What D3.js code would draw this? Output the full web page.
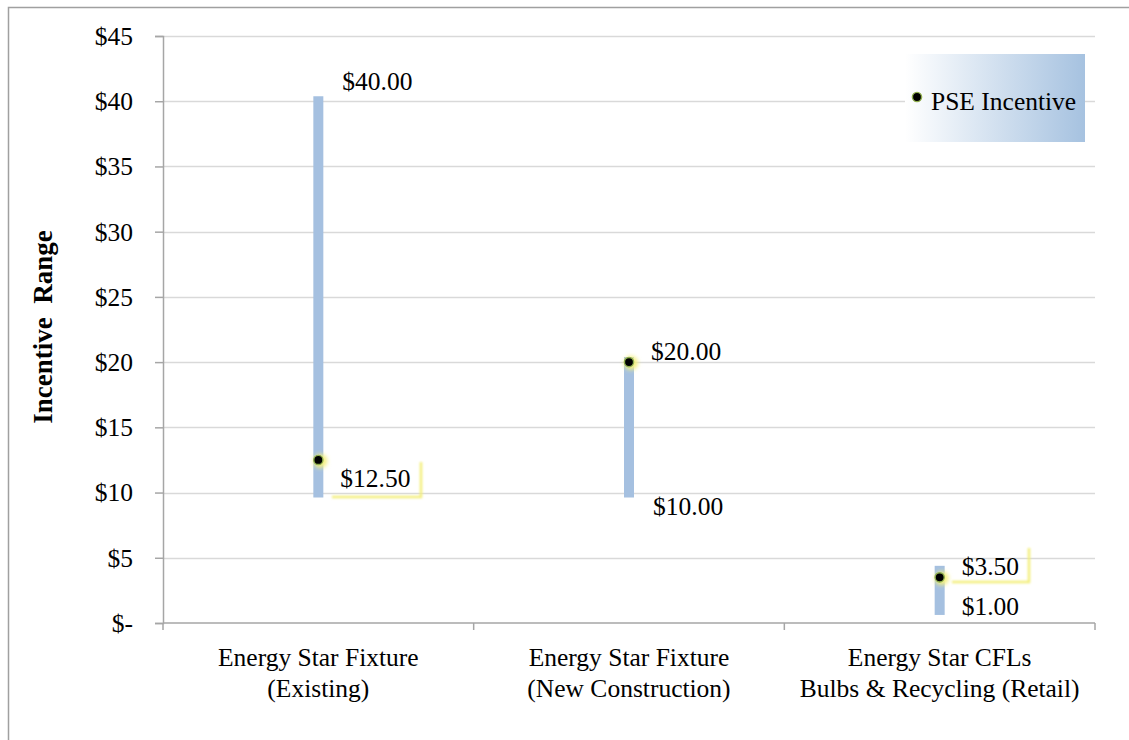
<!DOCTYPE html>
<html>
<head>
<meta charset="utf-8">
<script src="https://cdn.jsdelivr.net/npm/d3@7"></script>
<style>
  html, body { margin: 0; padding: 0; background: #fff; }
  svg { display: block; font-family: "Liberation Serif", "Times New Roman", serif; }
</style>
</head>
<body>
<script>
// Incentive ranges per program, with the PSE incentive marked as a point
const categories = [
  ["Energy Star Fixture", "(Existing)"],
  ["Energy Star Fixture", "(New Construction)"],
  ["Energy Star CFLs", "Bulbs & Recycling (Retail)"]
];
const rangeHigh = [40, 20, 4];
const rangeLow = [10, 10, 1];
const pseIncentive = [12.5, 20, 3.5];
const highLabels = ["$40.00", null, null];
const lowLabels = [null, "$10.00", "$1.00"];
const pointLabels = ["$12.50", "$20.00", "$3.50"];
const yTicks = [0, 5, 10, 15, 20, 25, 30, 35, 40, 45];
const yTickLabels = ["$-", "$5", "$10", "$15", "$20", "$25", "$30", "$35", "$40", "$45"];
const legendLabel = "PSE Incentive";
const yTitle = "Incentive  Range";

const W = 1129, H = 740;
const FS = 25.5;
const margin = { left: 163, right: 34, top: 36, bottom: 117 };
const svg = d3.select("body").append("svg").attr("width", W).attr("height", H);

const defs = svg.append("defs");
const grad = defs.append("linearGradient").attr("id", "legendFill").attr("x1", 0).attr("x2", 1).attr("y1", 0).attr("y2", 0);
grad.append("stop").attr("offset", 0).attr("stop-color", "#ffffff");
grad.append("stop").attr("offset", 1).attr("stop-color", "#a6c2e0");
const glow = defs.append("filter").attr("id", "glow").attr("x", "-50%").attr("y", "-50%").attr("width", "200%").attr("height", "200%");
glow.append("feGaussianBlur").attr("stdDeviation", 1.3);
const dotGlow = defs.append("filter").attr("id", "dotGlow").attr("x", "-100%").attr("y", "-100%").attr("width", "300%").attr("height", "300%");
dotGlow.append("feGaussianBlur").attr("stdDeviation", 2);

// Chart frame
svg.append("rect").attr("x", 8.5).attr("y", 7.5).attr("width", W + 10).attr("height", H + 10)
  .attr("fill", "none").attr("stroke", "#a0a0a0").attr("stroke-width", 1.5);

const x = d3.scaleBand().domain(d3.range(categories.length))
  .range([margin.left, W - margin.right]).padding(0);
const y = d3.scaleLinear().domain([0, 45]).range([H - margin.bottom, margin.top]);

const plotL = margin.left, plotR = W - margin.right;

// Horizontal gridlines
svg.append("g").selectAll("line").data(yTicks.filter(d => d > 0)).join("line")
  .attr("x1", plotL).attr("x2", plotR)
  .attr("y1", d => Math.round(y(d)) + 0.5).attr("y2", d => Math.round(y(d)) + 0.5)
  .attr("stroke", "#d9d9d9").attr("stroke-width", 1.5);

// Y axis
const yAxis = d3.axisLeft(y).tickValues(yTicks).tickSize(8).tickPadding(8)
  .tickFormat((d, i) => yTickLabels[i]);
const gy = svg.append("g").attr("transform", `translate(${plotL},0)`).call(yAxis)
  .attr("font-size", FS).attr("font-family", "Liberation Serif");
gy.select(".domain").attr("stroke", "#a6a6a6").attr("stroke-width", 1.5);
gy.selectAll(".tick line").attr("stroke", "#a6a6a6").attr("stroke-width", 1.5);
gy.selectAll(".tick text").attr("fill", "#000").attr("x", -30).attr("dy", "0.33em");

// X axis with ticks at band boundaries
const xb = plotL, bw = x.bandwidth();
const gx = svg.append("g");
gx.append("line").attr("x1", plotL).attr("x2", plotR)
  .attr("y1", y(0)).attr("y2", y(0)).attr("stroke", "#a6a6a6").attr("stroke-width", 1.5);
gx.selectAll("line.tk").data(d3.range(categories.length + 1)).join("line").attr("class", "tk")
  .attr("x1", d => xb + d * bw).attr("x2", d => xb + d * bw)
  .attr("y1", y(0)).attr("y2", y(0) + 7).attr("stroke", "#a6a6a6").attr("stroke-width", 1.5);
const catText = gx.selectAll("text").data(categories).join("text")
  .attr("text-anchor", "middle").attr("font-size", FS).attr("fill", "#000");
catText.each(function (d, i) {
  const t = d3.select(this);
  d.forEach((line, j) => {
    t.append("tspan").attr("x", x(i) + bw / 2).attr("y", 666 + j * 31).text(line);
  });
});

// Y title
svg.append("text").attr("transform", `translate(52,327) rotate(-90)`)
  .attr("text-anchor", "middle").attr("font-size", 27).attr("font-weight", "bold")
  .attr("fill", "#000").style("white-space", "pre").text(yTitle);

// High-low range bars
const cx = i => x(i) + bw / 2;
svg.append("g").selectAll("line").data(rangeHigh).join("line")
  .attr("x1", (d, i) => cx(i)).attr("x2", (d, i) => cx(i))
  .attr("y1", d => y(d)).attr("y2", (d, i) => y(rangeLow[i]))
  .attr("stroke", "#a5c0e0").attr("stroke-width", 10).attr("stroke-linecap", "square");

// Highlight frames behind selected point labels
const framed = [
  { x0: 332, x1: 421, y0: 462, y1: 497 },
  { x0: 952, x1: 1029, y0: 548, y1: 582 }
];
framed.forEach(f => {
  svg.append("path")
    .attr("d", `M${f.x1},${f.y0} L${f.x1},${f.y1} L${f.x0},${f.y1}`)
    .attr("fill", "none").attr("stroke", "#f3ee7a").attr("stroke-width", 2.5)
    .attr("filter", "url(#glow)");
});

// Range end labels
const highPos = [{ dx: 24, dy: -11 }];
highLabels.forEach((lab, i) => {
  if (!lab) return;
  svg.append("text").attr("x", cx(i) + highPos[i].dx).attr("y", y(rangeHigh[i]) + highPos[i].dy)
    .attr("font-size", FS).attr("fill", "#000").text(lab);
});
const lowPos = [null, { dx: 24, dy: 22 }, { dx: 22, dy: 5 }];
lowLabels.forEach((lab, i) => {
  if (!lab) return;
  svg.append("text").attr("x", cx(i) + lowPos[i].dx).attr("y", y(rangeLow[i]) + lowPos[i].dy)
    .attr("font-size", FS).attr("fill", "#000").text(lab);
});

// PSE incentive points
const pts = svg.append("g");
pseIncentive.forEach((v, i) => {
  pts.append("circle").attr("cx", cx(i) + 2).attr("cy", y(v) + 1).attr("r", 7)
    .attr("fill", "#f4f080").attr("filter", "url(#dotGlow)");
  pts.append("circle").attr("cx", cx(i)).attr("cy", y(v)).attr("r", 4.6)
    .attr("fill", "#000").attr("stroke", "#8fae4e").attr("stroke-width", 1.4);
});

// Point labels
const pointLabelPos = [
  { dx: 22, dy: 27 },
  { dx: 22, dy: -2 },
  { dx: 22, dy: -2 }
];
pointLabels.forEach((lab, i) => {
  svg.append("text").attr("x", cx(i) + pointLabelPos[i].dx).attr("y", y(pseIncentive[i]) + pointLabelPos[i].dy)
    .attr("font-size", FS).attr("fill", "#000").text(lab);
});

// Legend
const lg = svg.append("g");
lg.append("rect").attr("x", 905).attr("y", 54).attr("width", 180).attr("height", 88).attr("fill", "url(#legendFill)");
lg.append("circle").attr("cx", 917).attr("cy", 97).attr("r", 4.6)
  .attr("fill", "#000").attr("stroke", "#8fae4e").attr("stroke-width", 1.4);
lg.append("text").attr("x", 931).attr("y", 110).attr("font-size", FS).attr("fill", "#000").text(legendLabel);
</script>
</body>
</html>
